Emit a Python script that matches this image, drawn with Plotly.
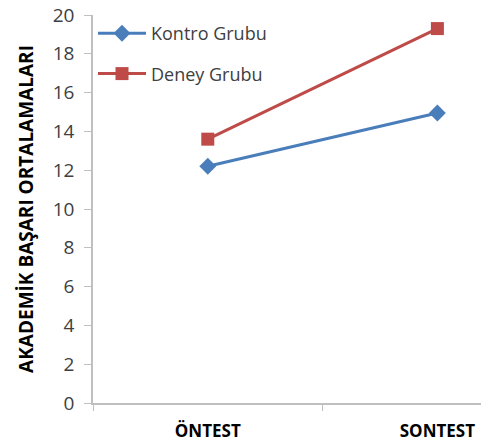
import plotly.graph_objects as go

categories = ["ÖNTEST", "SONTEST"]
kontrol_values = [12.2, 14.95]
deney_values = [13.6, 19.3]
y_ticks = [0, 2, 4, 6, 8, 10, 12, 14, 16, 18, 20]

axis_gray = "#bfbfbf"
font_family = "Open Sans, Liberation Sans, sans-serif"

fig = go.Figure()
fig.add_trace(go.Scatter(
    x=categories, y=kontrol_values, name="Kontro Grubu", legendgroup="k",
    mode="lines+markers",
    line=dict(color="#4a7ebb", width=3),
    marker=dict(symbol="diamond", size=13, color="#4a7ebb"),
))
fig.add_trace(go.Scatter(
    x=categories, y=deney_values, name="Deney Grubu", legendgroup="d",
    mode="lines+markers",
    line=dict(color="#be4b48", width=3),
    marker=dict(symbol="square", size=13, color="#be4b48"),
))

fig.update_layout(
    width=481, height=444,
    margin=dict(l=93, r=0, t=15, b=41),
    paper_bgcolor="white", plot_bgcolor="white",
    font=dict(family=font_family, color="#404040", size=17),
    legend=dict(
        x=0.0, y=1.0, xanchor="left", yanchor="top",
        bgcolor="rgba(0,0,0,0)", tracegroupgap=14, itemwidth=48,
        font=dict(size=18, color="#404040"),
    ),
    xaxis=dict(
        type="category", range=[-0.5, 1.19],
        tickson="boundaries", ticks="outside", ticklen=6, tickcolor=axis_gray,
        showline=True, linecolor=axis_gray, linewidth=1.5,
        showgrid=False, zeroline=False, ticklabelstandoff=12,
        tickfont=dict(size=17, color="#000000", weight="bold"),
    ),
    yaxis=dict(
        range=[0, 20], tickvals=y_ticks,
        ticks="outside", ticklen=7, tickcolor=axis_gray,
        showline=True, linecolor=axis_gray, linewidth=1.5,
        showgrid=False, zeroline=False, ticklabelstandoff=6,
        tickfont=dict(size=19, color="#404040"),
        title=dict(text="AKADEMİK BAŞARI ORTALAMALARI", standoff=14,
                   font=dict(size=19, color="#000000", weight="bold")),
    ),
)

fig.write_html("out.html")
